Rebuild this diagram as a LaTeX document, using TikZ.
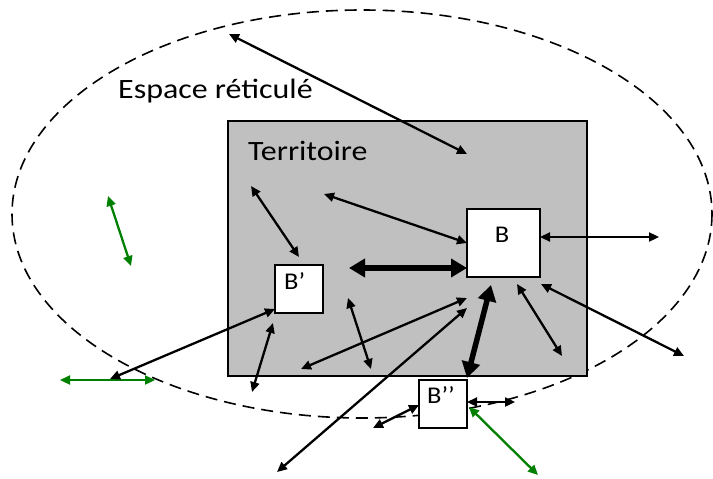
\documentclass[tikz,border=0pt]{standalone}
\usepackage{fontspec}
\setmainfont{Carlito}
\usetikzlibrary{arrows.meta}
\definecolor{grn}{RGB}{0,128,0}
\definecolor{terrfill}{RGB}{192,192,192}
\begin{document}
\begin{tikzpicture}[x=1pt,y=-1pt,
  conn/.style={line width=2.3pt,{Triangle[length=10pt,width=9pt]}-{Triangle[length=10pt,width=9pt]}},
  bigconn/.style={line width=5.5pt,{Triangle[length=16pt,width=18pt]}-{Triangle[length=16pt,width=18pt]}},
  gconn/.style={conn,draw=grn,fill=grn},
  box/.style={draw,fill=white,line width=1.6pt,inner sep=0pt,outer sep=0pt,anchor=north west},
  big/.style={font=\fontsize{28}{30}\selectfont,inner sep=0pt,anchor=base west,xscale=1.14},
  small/.style={font=\fontsize{24}{26}\selectfont,inner sep=0pt,anchor=base west,xscale=1.1}]
\useasboundingbox (0,0) rectangle (713,479);
% reticulated space
\draw[dash pattern=on 12pt off 7pt,line width=1.6pt] (362,214) ellipse [x radius=350,y radius=204];
% territory
\node[draw,fill=terrfill,line width=1.9pt,inner sep=0pt,outer sep=0pt,anchor=north west,minimum width=359pt,minimum height=255pt] (terr) at (228,121) {};
% boxes
\node[box,minimum width=73pt,minimum height=68pt] (B) at (467,209) {};
\node[box,minimum width=48pt,minimum height=48pt] (Bp) at (275,265) {};
\node[box,minimum width=48pt,minimum height=48pt] (Bs) at (419,380) {};
% labels
\node[big] (lesp) at (118,98) {Espace réticulé};
\node[big] (lterr) at (248,160) {Territoire};
\node[small,anchor=base] (lB) at (502,242) {B};
\node[small] (lBp) at (284,289) {B’};
\node[small] (lBs) at (427,403) {B’’};
% free ends and contact points
\coordinate (g1a) at (108,196); \coordinate (g1b) at (131,266);
\coordinate (g2a) at (60,380);  \coordinate (g2b) at (155,380);
\coordinate (p1) at (110,379);  \coordinate (p1b) at (275,309);
\coordinate (a1a) at (229,34);  \coordinate (a1b) at (467,154);
\coordinate (a2a) at (251,186); \coordinate (a2b) at (299,257);
\coordinate (a3a) at (324,194); \coordinate (a3b) at (467,243);
\coordinate (a4a) at (349,268); \coordinate (a4b) at (467,268);
\coordinate (a5a) at (540,237); \coordinate (a5b) at (659,237);
\coordinate (a6a) at (541,284); \coordinate (a6b) at (684,356);
\coordinate (a7a) at (517,284); \coordinate (a7b) at (562,356);
\coordinate (a8a) at (491,285); \coordinate (a8b) at (467,378);
\coordinate (a9a) at (467,298); \coordinate (a9b) at (301,369);
\coordinate (a10a) at (467,308); \coordinate (a10b) at (277,472);
\coordinate (a11a) at (348,298); \coordinate (a11b) at (371,369);
\coordinate (a12a) at (273,323); \coordinate (a12b) at (252,392);
\coordinate (a13a) at (419,405); \coordinate (a13b) at (373,428);
\coordinate (a14a) at (467,402); \coordinate (a14b) at (515,402);
\coordinate (a15a) at (469,407); \coordinate (a15b) at (538,475);
% connectors
\draw[gconn] (g1a) -- (g1b);
\draw[gconn] (g2a) -- (g2b);
\draw[conn] (p1) -- (p1b);
\draw[conn] (a1a) -- (a1b);
\draw[conn] (a2a) -- (a2b);
\draw[conn] (a3a) -- (a3b);
\draw[bigconn] (a4a) -- (a4b);
\draw[conn] (a5a) -- (a5b);
\draw[conn] (a6a) -- (a6b);
\draw[conn] (a7a) -- (a7b);
\draw[bigconn] (a8a) -- (a8b);
\draw[conn] (a9a) -- (a9b);
\draw[conn] (a10a) -- (a10b);
\draw[conn] (a11a) -- (a11b);
\draw[conn] (a12a) -- (a12b);
\draw[conn] (a13a) -- (a13b);
\draw[conn] (a14a) -- (a14b);
\draw[gconn] (a15a) -- (a15b);
\end{tikzpicture}
\end{document}
